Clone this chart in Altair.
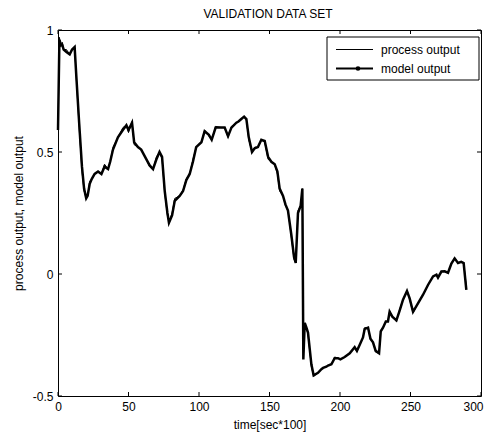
import altair as alt
import pandas as pd

# ---------------- data ----------------
time = [0, 1, 2, 3, 4, 6, 8.3, 10, 11.8, 13,
        15, 17, 18.5, 20, 21, 22.5, 24, 26, 28.4, 30.8,
        33, 35.5, 37, 39, 42.5, 46, 48.5, 50, 52.5, 54,
        56.7, 59, 62.7, 65, 67.4, 69.8, 72, 73.8, 75.7, 77.6,
        78.7, 80.9, 82.8, 86.3, 88.7, 91, 93.4, 95.7, 98, 101.7,
        104, 107, 109, 111.8, 115.9, 118.2, 120.6, 123, 126.5, 128,
        130, 132, 133.6, 135.3, 137.6, 139.5, 141.8, 144.2, 146.6, 149,
        151.3, 153.7, 155.6, 157.2, 159.6, 161.3, 163.1, 165.5, 167.4, 168.6,
        170.2, 172.1, 173.3, 174, 175, 176.2, 177.3, 179.7, 181.3, 184.4,
        186.8, 188, 190.3, 191.5, 193.9, 196.2, 198.6, 200.3, 203.3, 206.9,
        210.4, 212, 214, 216.3, 217.5, 219.9, 221.6, 223.4, 225.3, 227.7,
        228.9, 230.5, 232.5, 234, 235.2, 237.1, 240, 242.3, 244.7, 247.5,
        249.4, 251.8, 255.3, 258.9, 262.4, 266, 268.4, 269.5, 271.9, 274.3,
        276.6, 279, 281.3, 283.7, 286, 287.7, 289.6]

process = [0.59, 0.97, 0.93, 0.95, 0.92, 0.92, 0.90, 0.92, 0.93, 0.80,
           0.60, 0.42, 0.34, 0.31, 0.32, 0.38, 0.39, 0.41, 0.42, 0.41,
           0.45, 0.43, 0.46, 0.52, 0.56, 0.60, 0.61, 0.58, 0.625, 0.53,
           0.52, 0.51, 0.47, 0.44, 0.43, 0.48, 0.50, 0.47, 0.33, 0.24,
           0.215, 0.25, 0.31, 0.32, 0.345, 0.39, 0.41, 0.47, 0.52, 0.54,
           0.59, 0.565, 0.55, 0.605, 0.60, 0.60, 0.56, 0.605, 0.62, 0.625,
           0.635, 0.645, 0.63, 0.55, 0.50, 0.52, 0.52, 0.55, 0.54, 0.47,
           0.46, 0.45, 0.41, 0.34, 0.32, 0.28, 0.26, 0.15, 0.06, 0.045,
           0.26, 0.28, 0.35, -0.29, -0.21, -0.22, -0.25, -0.38, -0.42, -0.405,
           -0.39, -0.385, -0.38, -0.375, -0.37, -0.34, -0.345, -0.35, -0.34, -0.325,
           -0.30, -0.32, -0.29, -0.26, -0.22, -0.22, -0.27, -0.28, -0.32, -0.325,
           -0.23, -0.22, -0.195, -0.195, -0.15, -0.175, -0.195, -0.145, -0.105, -0.067,
           -0.105, -0.16, -0.12, -0.085, -0.044, -0.01, -0.003, -0.016, 0.011, 0.011,
           0.004, 0.045, 0.066, 0.045, 0.05, 0.045, -0.05]

model = [0.59, 0.96, 0.94, 0.94, 0.92, 0.91, 0.90, 0.92, 0.93, 0.81,
         0.62, 0.44, 0.35, 0.31, 0.32, 0.37, 0.39, 0.41, 0.42, 0.41,
         0.44, 0.43, 0.46, 0.51, 0.56, 0.59, 0.61, 0.59, 0.62, 0.54,
         0.52, 0.51, 0.47, 0.445, 0.43, 0.47, 0.50, 0.48, 0.34, 0.25,
         0.21, 0.24, 0.30, 0.32, 0.34, 0.385, 0.41, 0.46, 0.52, 0.54,
         0.585, 0.57, 0.55, 0.60, 0.60, 0.60, 0.565, 0.60, 0.62, 0.625,
         0.635, 0.645, 0.635, 0.56, 0.50, 0.515, 0.52, 0.55, 0.545, 0.48,
         0.46, 0.45, 0.42, 0.35, 0.32, 0.285, 0.26, 0.16, 0.07, 0.045,
         0.25, 0.28, 0.35, -0.35, -0.20, -0.22, -0.24, -0.37, -0.415, -0.405,
         -0.39, -0.385, -0.38, -0.375, -0.37, -0.345, -0.345, -0.35, -0.34, -0.325,
         -0.30, -0.315, -0.29, -0.26, -0.225, -0.22, -0.265, -0.28, -0.315, -0.325,
         -0.235, -0.22, -0.195, -0.195, -0.155, -0.175, -0.19, -0.15, -0.105, -0.07,
         -0.10, -0.155, -0.12, -0.085, -0.045, -0.01, -0.003, -0.015, 0.01, 0.011,
         0.005, 0.043, 0.064, 0.045, 0.05, 0.045, -0.065]

x_ticks = [0, 50, 100, 150, 200, 250, 300]
y_ticks = [-0.5, 0, 0.5, 1]
series_names = ["process output", "model output"]
title_text = "VALIDATION DATA SET"
x_title = "time[sec*100]"
y_title = "process output, model output"

# ---------------- layout / style ----------------
W, H = 423, 366
FONT = "Liberation Sans"
FS = 12

df = pd.DataFrame({"t": time, "process": process, "model": model})
xt = pd.DataFrame({"v": x_ticks})
yt = pd.DataFrame({"v": y_ticks})
one = pd.DataFrame({"k": [0]})

xs = alt.Scale(domain=[0, 300], nice=False, zero=False)
ys = alt.Scale(domain=[-0.5, 1], nice=False, zero=False)

last_x = x_ticks[-1]
x_axis = alt.Axis(values=x_ticks, title=x_title, labelFlush=False, ticks=False,
                  domain=False, grid=False, labelPadding=5, titlePadding=7,
                  labelOverlap=False, labelExpr="datum.value",
                  labelAlign={"condition": {"test": f"datum.value === {last_x}", "value": "right"},
                              "value": "center"},
                  labelOffset={"condition": {"test": f"datum.value === {last_x}", "value": 2},
                               "value": 0})
y_axis = alt.Axis(values=y_ticks, title=y_title, labelFlush=False, ticks=False,
                  domain=False, grid=False, labelPadding=5, titlePadding=7,
                  labelOverlap=False, labelExpr="datum.value")

X = alt.X("t:Q", scale=xs, axis=x_axis)

proc_line = alt.Chart(df).mark_line(color="black", strokeWidth=1).encode(
    x=X, y=alt.Y("process:Q", scale=ys, axis=y_axis))
model_line = alt.Chart(df).mark_line(color="black", strokeWidth=2.5).encode(
    x=X, y=alt.Y("model:Q", scale=ys, axis=y_axis))

tick_len = 4
bottom_ticks = alt.Chart(xt).mark_rule(color="black", strokeWidth=1).encode(
    x=alt.X("v:Q", scale=xs, axis=x_axis), y=alt.value(H), y2=alt.value(H - tick_len))
top_ticks = alt.Chart(xt).mark_rule(color="black", strokeWidth=1).encode(
    x=alt.X("v:Q", scale=xs, axis=x_axis), y=alt.value(0), y2=alt.value(tick_len))
left_ticks = alt.Chart(yt).mark_rule(color="black", strokeWidth=1).encode(
    y=alt.Y("v:Q", scale=ys, axis=y_axis), x=alt.value(0), x2=alt.value(tick_len))
right_ticks = alt.Chart(yt).mark_rule(color="black", strokeWidth=1).encode(
    y=alt.Y("v:Q", scale=ys, axis=y_axis), x=alt.value(W), x2=alt.value(W - tick_len))

# chart title as a text mark above the plot area
title_mark = alt.Chart(one).mark_text(align="center", baseline="alphabetic", font=FONT,
                                      fontSize=FS, color="black").encode(
    x=alt.value(210), y=alt.value(-12), text=alt.value(title_text))

# legend box drawn by hand (MATLAB style)
lx0, lx1, ly0, ly1 = 269, 421, 7, 50
legend_box = alt.Chart(one).mark_rect(fill="white", stroke="black", strokeWidth=1).encode(
    x=alt.value(lx0), x2=alt.value(lx1), y=alt.value(ly0), y2=alt.value(ly1))
row1, row2 = 19.5, 38.5
leg_line1 = alt.Chart(one).mark_rule(color="black", strokeWidth=1).encode(
    x=alt.value(278), x2=alt.value(315), y=alt.value(row1))
leg_line2 = alt.Chart(one).mark_rule(color="black", strokeWidth=2).encode(
    x=alt.value(278), x2=alt.value(315), y=alt.value(row2))
leg_dot = alt.Chart(one).mark_point(filled=True, color="black", size=22, opacity=1).encode(
    x=alt.value(300), y=alt.value(row2))
leg_text1 = alt.Chart(one).mark_text(align="left", baseline="middle", font=FONT,
                                     fontSize=FS, color="black").encode(
    x=alt.value(323), y=alt.value(row1), text=alt.value(series_names[0]))
leg_text2 = alt.Chart(one).mark_text(align="left", baseline="middle", font=FONT,
                                     fontSize=FS, color="black").encode(
    x=alt.value(323), y=alt.value(row2), text=alt.value(series_names[1]))

chart = alt.layer(
    proc_line, model_line, bottom_ticks, top_ticks, left_ticks, right_ticks,
    title_mark, legend_box, leg_line1, leg_line2, leg_dot, leg_text1, leg_text2
).properties(
    width=W, height=H,
    autosize=alt.AutoSizeParams(type="none"),
    padding={"left": 50, "top": 22, "right": 3, "bottom": 37},
    background="white",
).configure_view(
    stroke="black", strokeWidth=1
).configure_axis(
    labelFont=FONT, labelFontSize=FS, labelColor="black",
    titleFont=FONT, titleFontSize=FS, titleFontWeight="normal", titleColor="black"
)

chart.save("out.html", embed_options={"renderer": "svg", "actions": False})
